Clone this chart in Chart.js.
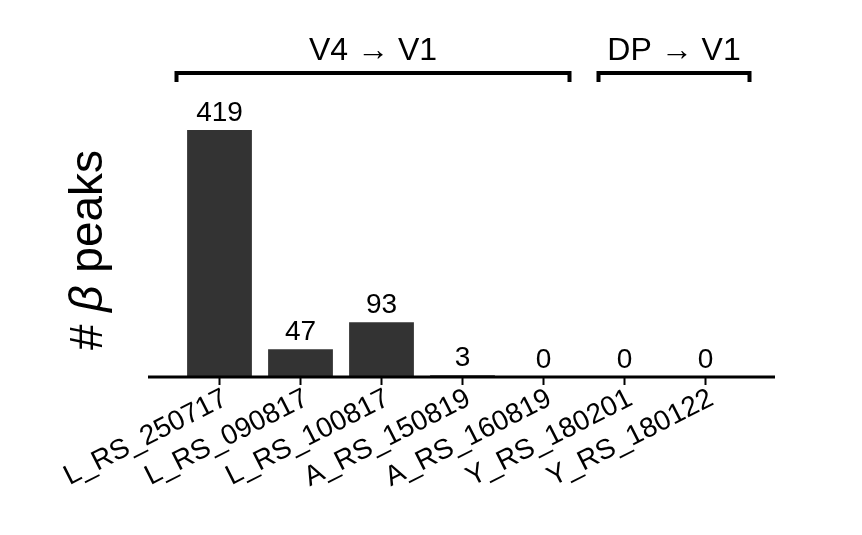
<!DOCTYPE html>
<html>
<head>
<meta charset="utf-8">
<script src="https://cdn.jsdelivr.net/npm/chart.js@4/dist/chart.umd.min.js"></script>
<style>
  html, body { margin: 0; padding: 0; background: #fff; }
  #wrap { width: 862px; height: 535px; }
</style>
</head>
<body>
<div id="wrap"><canvas id="chart"></canvas></div>
<script>
const sessions = ["L_RS_250717", "L_RS_090817", "L_RS_100817", "A_RS_150819", "A_RS_160819", "Y_RS_180201", "Y_RS_180122"];
const peakCounts = [419, 47, 93, 3, 0, 0, 0];
// bracket groups: [label, first index, last index]
const groups = [["V4 \u2192 V1", 0, 4], ["DP \u2192 V1", 5, 6]];

const FONT = "'Liberation Sans', Arial, sans-serif";
const ARROW_FONT = "'Liberation Sans', 'DejaVu Sans', sans-serif";

// draws baseline, ticks, rotated labels, value labels, brackets and y title
const decor = {
  id: "decor",
  afterDatasetsDraw(chart) {
    const ctx = chart.ctx;
    const x = chart.scales.x, y = chart.scales.y;
    const base = y.getPixelForValue(0);
    ctx.save();
    ctx.strokeStyle = "#000";
    ctx.fillStyle = "#000";
    ctx.lineWidth = 3;
    ctx.beginPath();
    ctx.moveTo(148, base);
    ctx.lineTo(775, base);
    ctx.stroke();

    sessions.forEach((s, i) => {
      const px = x.getPixelForValue(i);
      ctx.lineWidth = 2;
      ctx.beginPath();
      ctx.moveTo(px, base);
      ctx.lineTo(px, base + 8);
      ctx.stroke();
      // value
      ctx.font = "28px " + FONT;
      ctx.textAlign = "center";
      ctx.textBaseline = "bottom";
      ctx.fillText(String(peakCounts[i]), px, y.getPixelForValue(peakCounts[i]) - 3);
      // rotated label
      ctx.save();
      ctx.translate(px + 6, base + 20);
      ctx.rotate(-27 * Math.PI / 180);
      ctx.font = "28px " + FONT;
      ctx.textAlign = "right";
      ctx.textBaseline = "middle";
      ctx.fillText(s, 0, 0);
      ctx.restore();
    });

    // brackets
    const ends = [[-43, 26], [-26, 44]];
    groups.forEach(([label, a, b], g) => {
      const x0 = x.getPixelForValue(a) + ends[g][0];
      const x1 = x.getPixelForValue(b) + ends[g][1];
      const by = 73;
      ctx.lineWidth = 4;
      ctx.beginPath();
      ctx.moveTo(x0, by + 9);
      ctx.lineTo(x0, by);
      ctx.lineTo(x1, by);
      ctx.lineTo(x1, by + 9);
      ctx.stroke();
      ctx.font = "32px " + ARROW_FONT;
      ctx.textAlign = "center";
      ctx.textBaseline = "alphabetic";
      ctx.fillText(label, (x0 + x1) / 2, 60);
    });

    // y title
    ctx.save();
    ctx.translate(102, 250);
    ctx.rotate(-Math.PI / 2);
    ctx.textBaseline = "alphabetic";
    ctx.textAlign = "left";
    const t1 = "# ", t2 = "\u03b2", t3 = " peaks";
    ctx.font = "46px " + FONT;
    const w1 = ctx.measureText(t1).width, w3 = ctx.measureText(t3).width;
    ctx.font = "italic 46px " + FONT;
    const w2 = ctx.measureText(t2).width;
    const sx = -(w1 + w2 + w3) / 2;
    ctx.font = "46px " + FONT;
    ctx.fillText(t1, sx, 0);
    ctx.font = "italic 46px " + FONT;
    ctx.fillText(t2, sx + w1, 0);
    ctx.font = "46px " + FONT;
    ctx.fillText(t3, sx + w1 + w2, 0);
    ctx.restore();
    ctx.restore();
  }
};

new Chart(document.getElementById("chart"), {
  type: "bar",
  data: {
    labels: sessions,
    datasets: [{
      data: peakCounts,
      backgroundColor: "#333333",
      barPercentage: 0.8,
      categoryPercentage: 1.0
    }]
  },
  options: {
    responsive: true,
    maintainAspectRatio: false,
    animation: false,
    layout: { padding: { left: 179, right: 116, top: 100, bottom: 158 } },
    plugins: { legend: { display: false }, tooltip: { enabled: false } },
    scales: {
      x: { display: false },
      y: { display: false, min: 0, max: 470 }
    }
  },
  plugins: [decor]
});
</script>
</body>
</html>
